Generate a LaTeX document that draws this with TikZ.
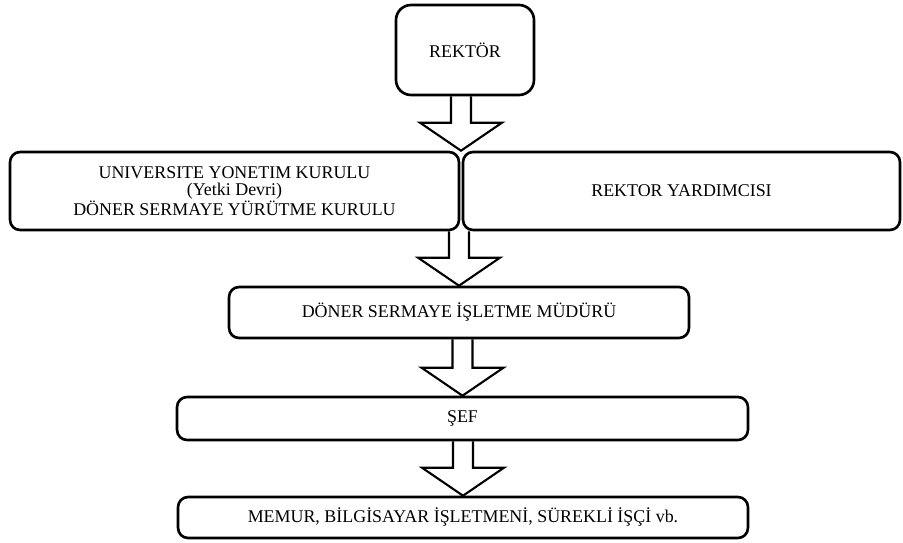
\documentclass[tikz,border=0pt]{standalone}
\usepackage{fontspec}
\setmainfont{LiberationSerif}[Extension=.ttf, UprightFont=*-Regular, BoldFont=*-Bold]
\usetikzlibrary{calc, positioning}

\begin{document}
\begin{tikzpicture}[x=0.02cm, y=-0.02cm,
		main/.style = {draw, line width=1.5pt, rounded corners=0.2cm, font=\rmfamily\fontsize{10.2}{9.7}\selectfont},
		fat/.style = {draw, line width=1.2pt, line join=miter}]
		\useasboundingbox (0,0) rectangle (903,542);
		\node[main, rounded corners=0.3cm, minimum width=2.76cm, minimum height=1.8cm] (1) at (465,50) {REKTÖR};
		\node[main, minimum width=8.98cm, minimum height=1.56cm, align=center] (2) at (234.5,191) {UNIVERSITE YONETIM KURULU\\(Yetki Devri)\\DÖNER SERMAYE YÜRÜTME KURULU};
		\node[main, minimum width=8.74cm, minimum height=1.56cm] (3) at (681.5,191) {REKTOR YARDIMCISI};
		\node[main, minimum width=9.2cm, minimum height=1.02cm] (4) at (459,312.5) {DÖNER SERMAYE İŞLETME MÜDÜRÜ};
		\node[main, minimum width=11.42cm, minimum height=0.86cm] (5) at (462.5,418.5) {ŞEF};
		\node[main, minimum width=11.4cm, minimum height=0.82cm] (6) at (463,517.5) {MEMUR, BİLGİSAYAR İŞLETMENİ, SÜREKLİ İŞÇİ vb.};
		\coordinate (t) at ($(2.north east)!0.5!(3.north west)$);
		\coordinate (b) at ($(2.south east)!0.5!(3.south west)$);
		\foreach \a/\b in {1.south/t, b/4.north, 4.south/5.north, 5.south/6.north}
			\draw[fat] let \p1=(\a), \p2=(\b) in
				(\x2-0.2cm,\y1) -- (\x2-0.2cm,\y2+0.56cm) -- (\x2-0.82cm,\y2+0.56cm) -- (\x2,\y2)
				-- (\x2+0.82cm,\y2+0.56cm) -- (\x2+0.2cm,\y2+0.56cm) -- (\x2+0.2cm,\y1);
	\end{tikzpicture}
\end{document}
